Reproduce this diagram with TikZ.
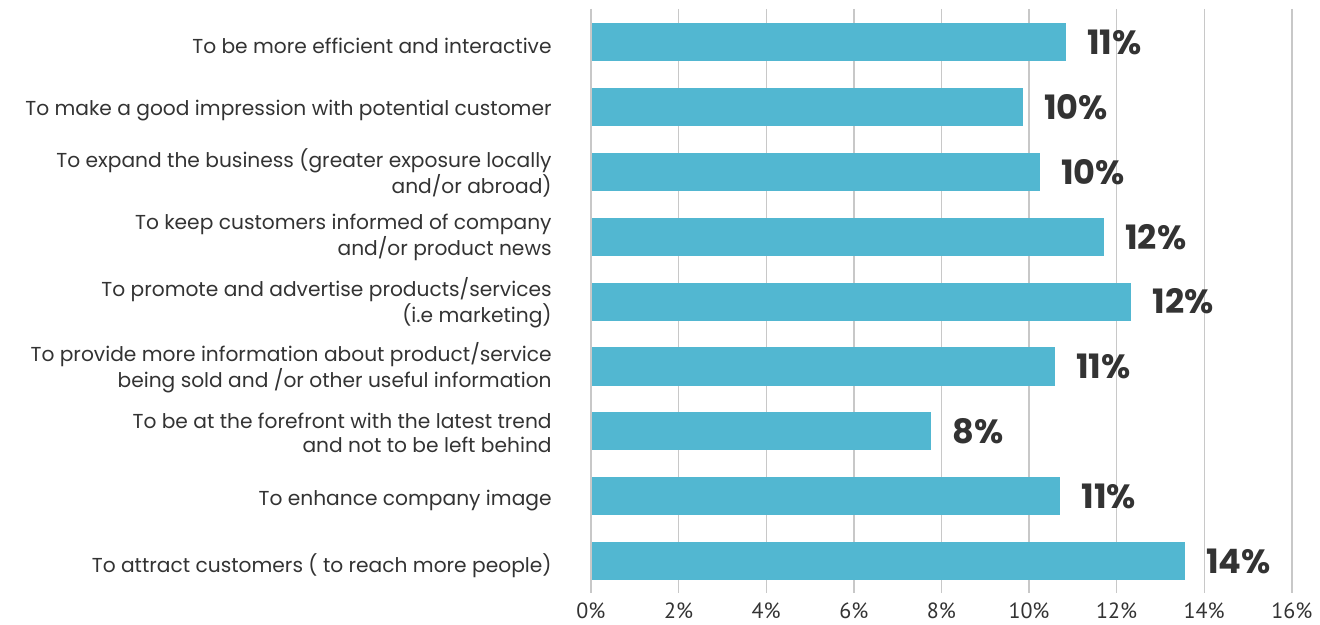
\documentclass[tikz,border=0pt]{standalone}
\usepackage{fontspec}
\setmainfont{Poppins}
\newfontfamily\tickfont{PT Sans}
\usepackage{xcolor}
\definecolor{BarCol}{RGB}{82,183,209}
\definecolor{GridCol}{RGB}{200,200,200}
\definecolor{TextCol}{RGB}{51,51,51}
\usepackage{tikz}
\tikzstyle{Bar}=[fill=BarCol]
\tikzstyle{Grid}=[draw=GridCol,line width=0.7pt]
\tikzstyle{Cat}=[anchor=east,align=right,inner sep=0pt,text=TextCol,
yshift=-0.5pt,font=\fontsize{10.1}{12}\selectfont]
\tikzstyle{CatOne}=[Cat,yshift=-1.5pt]
\tikzstyle{Val}=[anchor=west,inner sep=0pt,xshift=10.5pt,text=TextCol,
font=\fontsize{16.8}{18}\selectfont\bfseries]
\tikzstyle{Tick}=[inner sep=0pt,text=TextCol,font=\tickfont\fontsize{11}{12}\selectfont]

\begin{document}
\begin{tikzpicture}[x=21.9pt,y=-32.45pt]
        \useasboundingbox (-13.493,-0.647) rectangle (16.644,8.968);
        \foreach \g in {0,2,...,16}{
            \draw[Grid](\g,-0.51)--(\g,8.49);
            \node[Tick](t\g)at(\g,8.77){\g\%};
        }
        \fill[Bar](0,-0.293)rectangle(10.84,0.293);
        \fill[Bar](0,0.707)rectangle(9.86,1.293);
        \fill[Bar](0,1.707)rectangle(10.25,2.293);
        \fill[Bar](0,2.707)rectangle(11.71,3.293);
        \fill[Bar](0,3.707)rectangle(12.33,4.293);
        \fill[Bar](0,4.707)rectangle(10.59,5.293);
        \fill[Bar](0,5.707)rectangle(7.76,6.293);
        \fill[Bar](0,6.707)rectangle(10.71,7.293);
        \fill[Bar](0,7.707)rectangle(13.56,8.293);
        \draw[Grid](0,-0.51)--(0,8.49);
        \node[Val](v1)at(10.84,0){11\%};
        \node[Val](v2)at(9.86,1){10\%};
        \node[Val](v3)at(10.25,2){10\%};
        \node[Val](v4)at(11.71,3){12\%};
        \node[Val](v5)at(12.33,4){12\%};
        \node[Val](v6)at(10.59,5){11\%};
        \node[Val](v7)at(7.76,6){8\%};
        \node[Val](v8)at(10.71,7){11\%};
        \node[Val](v9)at(13.56,8){14\%};
        \node[CatOne](c1)at(-0.89,0){To be more efficient and interactive};
        \node[CatOne](c2)at(-0.89,1){To make a good impression with potential customer};
        \node[Cat](c3)at(-0.89,2){To expand the business (greater exposure locally\\and/or abroad)};
        \node[Cat](c4)at(-0.89,3){To keep customers informed of company\\and/or product news};
        \node[Cat](c5)at(-0.89,4){To promote and advertise products/services\\(i.e marketing)};
        \node[Cat](c6)at(-0.89,5){To provide more information about product/service\\being sold and /or other useful information};
        \node[Cat](c7)at(-0.89,6){To be at the forefront with the latest trend\\and not to be left behind};
        \node[CatOne](c8)at(-0.89,7){To enhance company image};
        \node[CatOne](c9)at(-0.89,8){To attract customers ( to reach more people)};
    \end{tikzpicture}
\end{document}
